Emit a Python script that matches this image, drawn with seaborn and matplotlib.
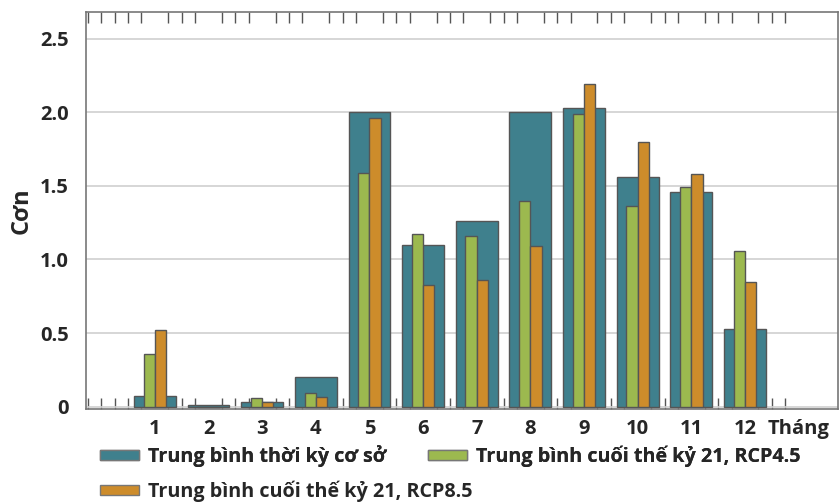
import numpy as np
import pandas as pd
import seaborn as sns
from matplotlib import pyplot as plt
from matplotlib.patches import Patch

months = list(range(1, 13))
baseline = [0.07, 0.01, 0.035, 0.20, 2.00, 1.10, 1.26, 2.00, 2.03, 1.56, 1.46, 0.53]
rcp45 = [0.36, 0.0, 0.06, 0.095, 1.59, 1.17, 1.16, 1.40, 1.99, 1.36, 1.49, 1.06]
rcp85 = [0.52, 0.0, 0.035, 0.063, 1.96, 0.83, 0.86, 1.09, 2.19, 1.80, 1.58, 0.85]
labels = ['Trung bình thời kỳ cơ sở', 'Trung bình cuối thế kỷ 21, RCP4.5',
          'Trung bình cuối thế kỷ 21, RCP8.5']
colors = ['#3f808d', '#9cb94f', '#cd8c2b']
tick_labels = [str(m) for m in months] + ['Tháng']

sns.set_style('white')
plt.rcParams['font.family'] = ['Open Sans', 'DejaVu Sans']

df = pd.DataFrame({'month': months, 'base': baseline, 'r45': rcp45, 'r85': rcp85})
df['m45'] = df['month'] - 0.105
df['m85'] = df['month'] + 0.105

fig = plt.figure(figsize=(8.4, 5.03), dpi=100)
ax = fig.add_axes([0.102, 0.187, 0.896, 0.789])

edge = '#555555'
sns.barplot(data=df, x='month', y='base', native_scale=True, width=0.78,
            color=colors[0], saturation=1, edgecolor=edge, linewidth=1, ax=ax, zorder=2)
sns.barplot(data=df, x='m45', y='r45', native_scale=True, width=0.21,
            color=colors[1], saturation=1, edgecolor=edge, linewidth=1, ax=ax, zorder=3)
sns.barplot(data=df, x='m85', y='r85', native_scale=True, width=0.21,
            color=colors[2], saturation=1, edgecolor=edge, linewidth=1, ax=ax, zorder=3)

ax.set_xticks(range(1, 14))
ax.set_xticklabels(tick_labels, fontsize=14.5, fontweight='bold')
ax.get_xticklabels()[-1].set_x(13.12)
ax.set_xticks(np.arange(-0.75, 13.01, 0.25), minor=True)
ax.set_yticks([0, 0.5, 1.0, 1.5, 2.0, 2.5])
ax.set_yticklabels(['0', '0.5', '1.0', '1.5', '2.0', '2.5'], fontsize=14.5, fontweight='bold')
ax.set_xlim(-0.29, 13.74)
ax.set_ylim(-0.015, 2.68)
ax.tick_params(axis='x', which='major', length=0, pad=7)
ax.tick_params(axis='y', which='major', length=0, pad=12)
ax.tick_params(axis='x', which='minor', direction='in', length=8, width=1,
               color='#555555', top=True, bottom=True)
ax.grid(axis='y', color='#d0d0d0', linewidth=1.2, zorder=0)
ax.set_axisbelow(True)
ax.set_xlabel('')
ax.set_ylabel('Cơn', fontsize=17, fontweight='bold', labelpad=5)
for s in ax.spines.values():
    s.set_color('#777777')
    s.set_linewidth(1.2)

handles = [Patch(facecolor=c, edgecolor='#777777', label=l) for c, l in zip(colors, labels)]
leg_kw = dict(frameon=False, prop={'size': 14.2, 'weight': 'bold'}, handlelength=2.0,
              handleheight=0.4, handletextpad=0.45, columnspacing=2.1,
              borderpad=0, borderaxespad=0, loc='center left')
leg1 = fig.legend(handles=handles[:2], ncol=2, bbox_to_anchor=(0.119, 0.093), **leg_kw)
fig.add_artist(leg1)
fig.legend(handles=handles[2:], ncol=1, bbox_to_anchor=(0.119, 0.024), **leg_kw)

fig.savefig('out.png', dpi=100)
